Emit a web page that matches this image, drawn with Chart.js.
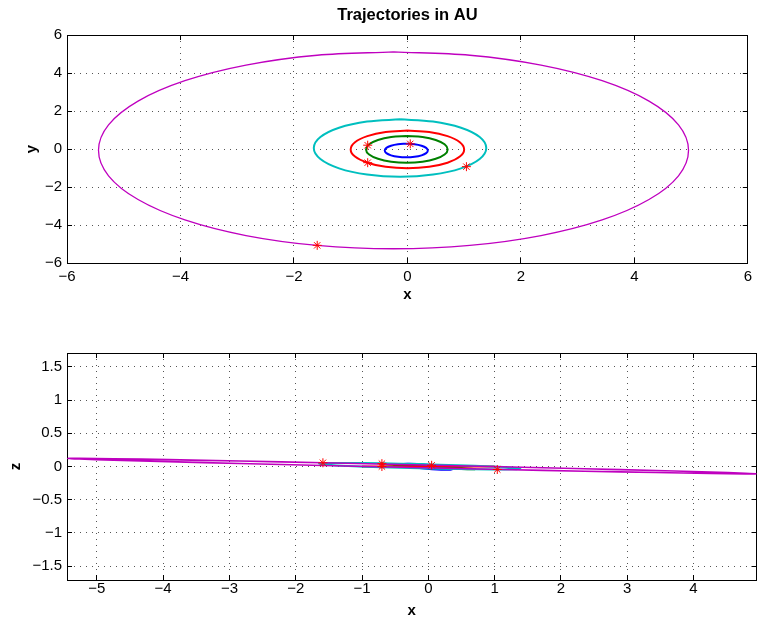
<!DOCTYPE html>
<html>
<head>
<meta charset="utf-8">
<script src="https://cdn.jsdelivr.net/npm/chart.js@4.4.1/dist/chart.umd.min.js"></script>
<style>
  body { margin: 0; background: #fff; }
  #wrap { position: relative; width: 762px; height: 620px; }
  canvas { position: absolute; left: 0; }
</style>
</head>
<body>
<div id="wrap">
  <canvas id="xyChart" width="762" height="310" style="top:0"></canvas>
  <canvas id="xzChart" width="762" height="310" style="top:310px"></canvas>
</div>
<script>
// orbit samples (AU), each loop starts and ends at its top
const mercuryX = [-0.02, -0.166, -0.289, -0.371, -0.40, -0.371, -0.289, -0.166, -0.02, 0.126, 0.249, 0.331, 0.36, 0.331, 0.249, 0.126, -0.02];
const mercuryY = [0.28, 0.253, 0.175, 0.058, -0.08, -0.218, -0.335, -0.413, -0.44, -0.413, -0.335, -0.218, -0.08, 0.058, 0.175, 0.253, 0.28];
const mercuryZ = [0.025, 0.036, 0.041, 0.039, 0.030, 0.016, -0.001, -0.019, -0.034, -0.045, -0.050, -0.048, -0.040, -0.026, -0.009, 0.009, 0.025];

const venusX = [-0.01, -0.286, -0.519, -0.675, -0.73, -0.675, -0.519, -0.286, -0.01, 0.266, 0.499, 0.655, 0.71, 0.655, 0.499, 0.266, -0.01];
const venusY = [0.68, 0.627, 0.475, 0.248, -0.02, -0.288, -0.515, -0.667, -0.72, -0.667, -0.515, -0.288, -0.02, 0.248, 0.475, 0.627, 0.68];
const venusZ = [0.010, 0.025, 0.036, 0.042, 0.042, 0.035, 0.023, 0.007, -0.009, -0.024, -0.036, -0.042, -0.041, -0.034, -0.022, -0.007, 0.010];

const earthX = [0, -0.383, -0.707, -0.924, -1, -0.924, -0.707, -0.383, 0, 0.383, 0.707, 0.924, 1, 0.924, 0.707, 0.383, 0];
const earthY = [0.97, 0.895, 0.68, 0.359, -0.02, -0.399, -0.72, -0.935, -1.01, -0.935, -0.72, -0.399, -0.02, 0.359, 0.68, 0.895, 0.97];
const earthZ = [0, 0, 0, 0, 0, 0, 0, 0, 0, 0, 0, 0, 0, 0, 0, 0, 0];

const marsX = [-0.13, -0.712, -1.205, -1.534, -1.65, -1.534, -1.205, -0.712, -0.13, 0.452, 0.945, 1.274, 1.39, 1.274, 0.945, 0.452, -0.13];
const marsY = [1.56, 1.445, 1.118, 0.628, 0.05, -0.528, -1.018, -1.345, -1.46, -1.345, -1.018, -0.528, 0.05, 0.628, 1.118, 1.445, 1.56];
const marsZ = [0.036, 0.048, 0.053, 0.051, 0.042, 0.027, 0.008, -0.011, -0.027, -0.039, -0.045, -0.042, -0.033, -0.018, 0.000, 0.019, 0.036];

const jupiterX = [-0.245, -1.591, -2.845, -3.922, -4.748, -5.268, -5.445, -5.268, -4.748, -3.922, -2.845, -1.591, -0.245, 1.101, 2.355, 3.432, 4.258, 4.778, 4.955, 4.778, 4.258, 3.432, 2.355, 1.101, -0.245];
const jupiterY = [5.11, 4.934, 4.416, 3.593, 2.52, 1.271, -0.07, -1.411, -2.66, -3.733, -4.556, -5.074, -5.25, -5.074, -4.556, -3.733, -2.66, -1.411, -0.07, 1.271, 2.52, 3.593, 4.416, 4.934, 5.11];
const jupiterZ = [-0.016, 0.015, 0.045, 0.073, 0.096, 0.112, 0.122, 0.123, 0.117, 0.103, 0.082, 0.056, 0.027, -0.004, -0.034, -0.061, -0.084, -0.101, -0.110, -0.112, -0.105, -0.091, -0.071, -0.045, -0.016];

// current positions (red stars)
const starX = [0.05, -0.70, -0.70, 1.04, -1.59];
const starY = [0.27, 0.20, -0.72, -0.93, -5.07];
const starZ = [0.018, 0.043, 0.0, -0.045, 0.056];

// tick labels
const xyTicksX = [-6, -4, -2, 0, 2, 4, 6];
const xyTicksY = [-6, -4, -2, 0, 2, 4, 6];
const xzTicksX = [-5, -4, -3, -2, -1, 0, 1, 2, 3, 4];
const xzTicksZ = [-1.5, -1, -0.5, 0, 0.5, 1, 1.5];

const FAMILY = "'Liberation Sans', Arial, sans-serif";
const tickFont = { family: FAMILY, size: 15 };
const labelFont = { family: FAMILY, size: 15, weight: 'bold' };

function fmtTick(v) {
  return v < 0 ? '\u2212' + Math.abs(v) : String(v);
}

function toPoints(xs, ys) {
  return xs.map((x, i) => ({ x: x, y: ys[i] }));
}

function orbitSet(xs, ys, color, width, order) {
  return {
    data: toPoints(xs, ys),
    showLine: true,
    borderColor: color,
    borderWidth: width,
    pointRadius: 0,
    tension: 0.34,
    fill: false,
    order: order
  };
}

function starSet(xs, ys) {
  return {
    data: toPoints(xs, ys),
    showLine: false,
    pointStyle: 'star',
    pointRadius: 4.5,
    pointBorderColor: '#ff0000',
    pointBackgroundColor: '#ff0000',
    pointBorderWidth: 1,
    order: 0
  };
}

// main axis with labels, dotted grid and inward ticks
function mainAxis(pos, min, max, tickVals, size, labelPad, title, titlePad) {
  const horiz = pos === 'bottom';
  return {
    type: 'linear',
    axis: horiz ? 'x' : 'y',
    position: pos,
    min: min,
    max: max,
    afterBuildTicks: s => { s.ticks = tickVals.map(v => ({ value: v })); },
    afterFit: s => { if (horiz) s.height = size; else s.width = size; },
    grid: { color: '#555', lineWidth: 1, drawTicks: true, tickLength: -5, tickColor: '#000', tickWidth: 1 },
    border: { display: true, color: '#000', width: 1, dash: [1, 5] },
    ticks: { font: tickFont, color: '#000', padding: labelPad, maxRotation: 0, minRotation: 0, autoSkip: false, callback: fmtTick },
    title: { display: true, text: title, font: labelFont, color: '#000', padding: titlePad }
  };
}

// box side on top/right with inward ticks only
function sideAxis(pos, min, max, tickVals) {
  const horiz = pos === 'top';
  return {
    type: 'linear',
    axis: horiz ? 'x' : 'y',
    position: pos,
    min: min,
    max: max,
    afterBuildTicks: s => { s.ticks = tickVals.map(v => ({ value: v })); },
    afterFit: s => { if (horiz) s.height = 0; else s.width = 0; },
    grid: { drawOnChartArea: false, drawTicks: true, tickLength: -5, color: '#000', tickColor: '#000', tickWidth: 1 },
    border: { display: true, color: '#000', width: 1 },
    ticks: { display: false }
  };
}

Chart.defaults.font.family = FAMILY;
Chart.defaults.color = '#000';

new Chart(document.getElementById('xyChart'), {
  type: 'scatter',
  data: {
    datasets: [
      starSet(starX, starY),
      orbitSet(jupiterX, jupiterY, '#bf00bf', 1.3, 1),
      orbitSet(marsX, marsY, '#00bfbf', 2, 2),
      orbitSet(earthX, earthY, '#ff0000', 2, 3),
      orbitSet(venusX, venusY, '#008000', 2, 4),
      orbitSet(mercuryX, mercuryY, '#0000ff', 2, 5)
    ]
  },
  options: {
    responsive: false,
    animation: false,
    events: [],
    layout: { padding: { left: 0, right: 5, top: 0, bottom: 0 } },
    plugins: {
      legend: { display: false },
      tooltip: { enabled: false },
      title: {
        display: true,
        text: 'Trajectories in AU',
        fullSize: false,
        color: '#000',
        font: { family: FAMILY, size: 16.5, weight: 'bold' },
        padding: { top: 6, bottom: 9.2 }
      }
    },
    scales: {
      x: mainAxis('bottom', -6, 6, xyTicksX, 47, 10, 'x', { top: 0, bottom: 6 }),
      y: mainAxis('left', -6, 6, xyTicksY, 67, 10, 'y', { top: 23, bottom: 0 }),
      xTop: sideAxis('top', -6, 6, xyTicksX),
      yRight: sideAxis('right', -6, 6, xyTicksY)
    }
  }
});

new Chart(document.getElementById('xzChart'), {
  type: 'scatter',
  data: {
    datasets: [
      starSet(starX, starZ),
      orbitSet(jupiterX, jupiterZ, '#bf00bf', 1.6, 1),
      orbitSet(marsX, marsZ, '#00bfbf', 2, 2),
      orbitSet(earthX, earthZ, '#ff0000', 2, 3),
      orbitSet(venusX, venusZ, '#008000', 2, 4),
      orbitSet(mercuryX, mercuryZ, '#0000ff', 2, 5)
    ]
  },
  options: {
    responsive: false,
    animation: false,
    events: [],
    layout: { padding: { left: 0, right: 5, top: 43, bottom: 0 } },
    plugins: {
      legend: { display: false },
      tooltip: { enabled: false }
    },
    scales: {
      x: mainAxis('bottom', -5.45, 4.95, xzTicksX, 40, 5, 'x', { top: 0, bottom: 0 }),
      y: mainAxis('left', -1.71, 1.71, xzTicksZ, 67, 10, 'z', { top: 7, bottom: 0 }),
      xTop: sideAxis('top', -5.45, 4.95, xzTicksX),
      yRight: sideAxis('right', -1.71, 1.71, xzTicksZ)
    }
  }
});
</script>
</body>
</html>
